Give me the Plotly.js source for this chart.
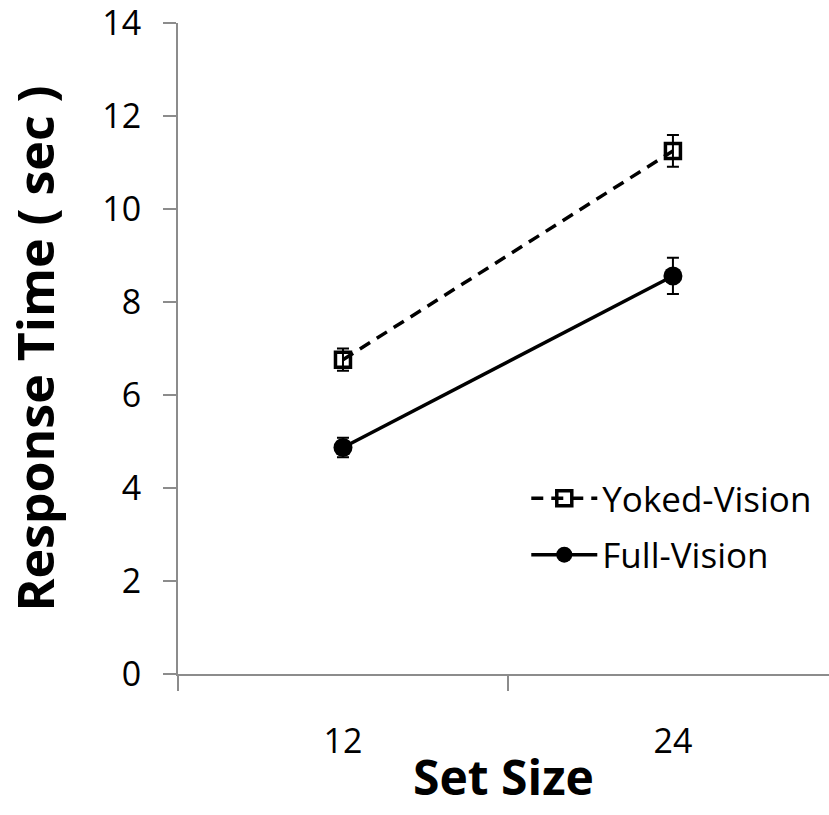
<!DOCTYPE html>
<html><head><meta charset="utf-8">
<script src="https://cdn.plot.ly/plotly-3.0.1.min.js"></script>
<style>body{margin:0;background:#fff}#c{width:829px;height:815px}</style>
</head><body><div id="c"></div>
<script>
const categories = ["12", "24"];
const yokedVision = [6.76, 11.25];
const yokedErr = [0.24, 0.34];
const fullVision = [4.87, 8.56];
const fullErr = [0.21, 0.39];
const yTicks = [0, 2, 4, 6, 8, 10, 12, 14];

const font = "Open Sans, Liberation Sans, sans-serif";
const traces = [
  {x: categories, y: yokedVision, name: "Yoked-Vision", type: "scatter", mode: "lines+markers",
   legendgroup: "a",
   line: {color: "#000", width: 3.5, dash: "12px,8px"},
   marker: {symbol: "square-open", size: 15, color: "#000", line: {width: 3.5, color: "#000"}},
   error_y: {type: "data", array: yokedErr, visible: true, color: "#000", thickness: 2, width: 6}},
  {x: categories, y: fullVision, name: "Full-Vision", type: "scatter", mode: "lines+markers",
   legendgroup: "b",
   line: {color: "#000", width: 3.5},
   marker: {symbol: "circle", size: 19, color: "#000"},
   error_y: {type: "data", array: fullErr, visible: true, color: "#000", thickness: 2, width: 6}}
];
const layout = {
  width: 829, height: 815,
  margin: {l: 178, r: 0, t: 23, b: 141},
  paper_bgcolor: "#fff", plot_bgcolor: "#fff",
  font: {family: font, color: "#000"},
  showlegend: true,
  legend: {x: 0.535, y: 0.315, xanchor: "left", yanchor: "top", bgcolor: "rgba(0,0,0,0)",
           font: {size: 35, family: font}, itemwidth: 66, traceorder: "grouped", tracegroupgap: 8},
  xaxis: {type: "category", range: [-0.5, 1.473], tickson: "boundaries", ticks: "outside", ticklen: 15,
          tickwidth: 2, tickcolor: "#8c8c8c", showline: true, linecolor: "#8c8c8c", linewidth: 2,
          showgrid: false, zeroline: false, tickfont: {size: 34}, ticklabelstandoff: 36,
          title: {text: "<b>Set Size</b>", font: {size: 48}, standoff: 0}},
  yaxis: {range: [0, 14.001], tickvals: yTicks, ticks: "outside", ticklen: 13, tickwidth: 2,
          tickcolor: "#8c8c8c", showline: true, linecolor: "#8c8c8c", linewidth: 2,
          showgrid: false, zeroline: false, tickfont: {size: 34}, ticklabelstandoff: 15,
          ticklabeloverflow: "allow",
          title: {text: "<b>Response Time ( sec )</b>", font: {size: 50}, standoff: 32}}
};
Plotly.newPlot("c", traces, layout, {displayModeBar: false});
</script></body></html>
